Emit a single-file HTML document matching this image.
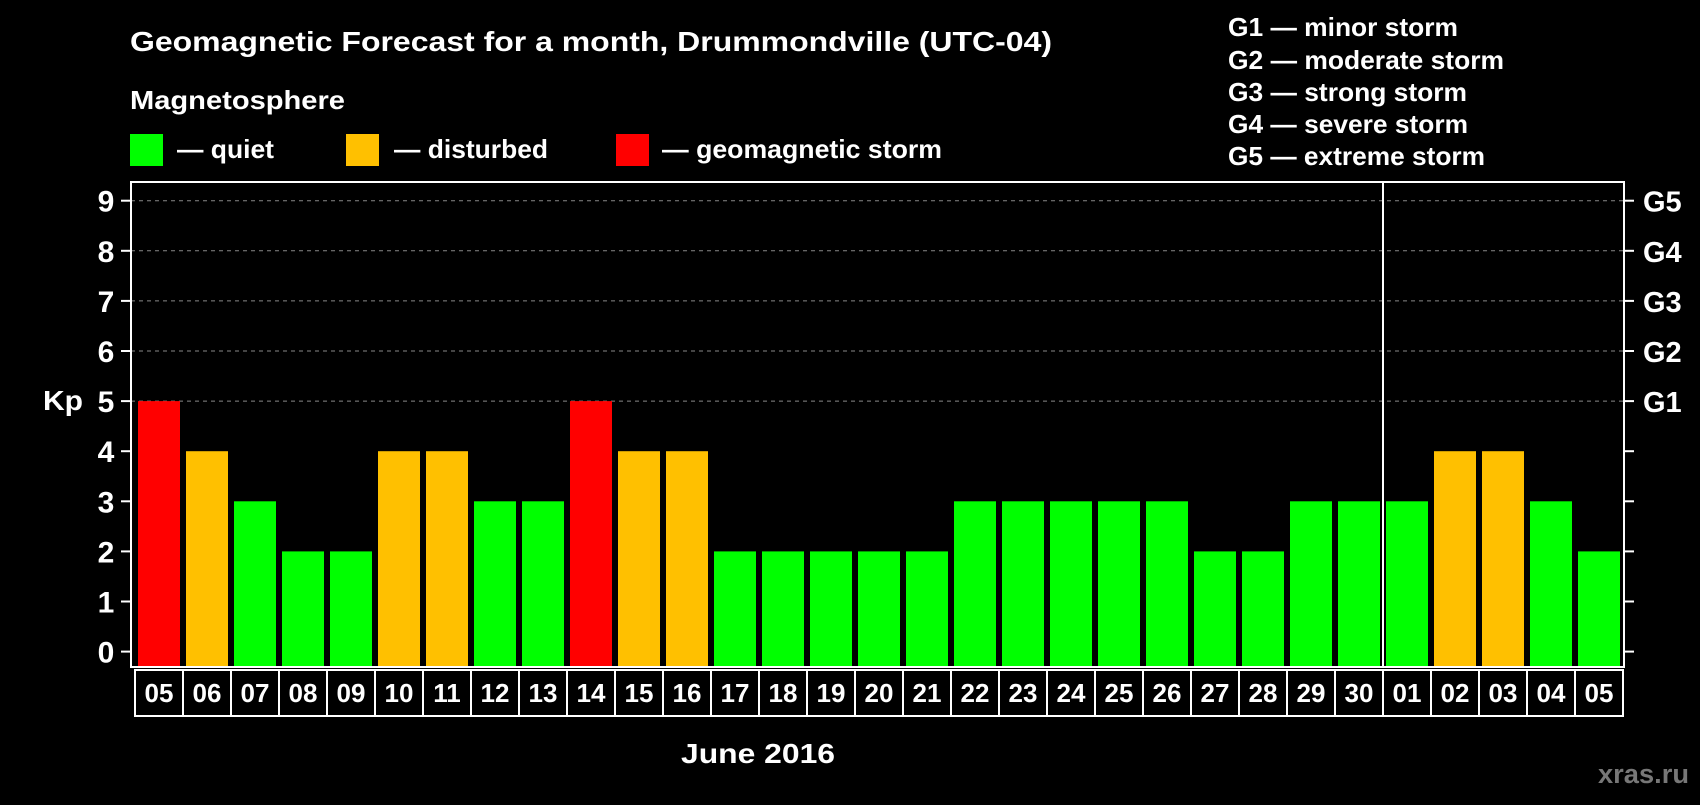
<!DOCTYPE html>
<html><head><meta charset="utf-8"><style>
body{margin:0;background:#000;width:1700px;height:800px;overflow:hidden}
svg text{font-family:"Liberation Sans",Arial,sans-serif;font-weight:bold;fill:#fff}
</style></head><body>
<svg id="c" width="1700" height="800">
<text x="130" y="51" font-size="28" textLength="922" lengthAdjust="spacingAndGlyphs">Geomagnetic Forecast for a month, Drummondville (UTC-04)</text>
<text x="130" y="109" font-size="26" textLength="215" lengthAdjust="spacingAndGlyphs">Magnetosphere</text>
<rect x="130" y="134" width="33" height="32" fill="#00ff00"/>
<text x="177" y="158" font-size="26" textLength="97" lengthAdjust="spacingAndGlyphs">— quiet</text>
<rect x="346" y="134" width="33" height="32" fill="#ffc000"/>
<text x="394" y="158" font-size="26" textLength="154" lengthAdjust="spacingAndGlyphs">— disturbed</text>
<rect x="616" y="134" width="33" height="32" fill="#ff0000"/>
<text x="662" y="158" font-size="26" textLength="280" lengthAdjust="spacingAndGlyphs">— geomagnetic storm</text>
<g font-size="26">
<text x="1228" y="36" textLength="230" lengthAdjust="spacingAndGlyphs">G1 — minor storm</text>
<text x="1228" y="69" textLength="276" lengthAdjust="spacingAndGlyphs">G2 — moderate storm</text>
<text x="1228" y="101" textLength="239" lengthAdjust="spacingAndGlyphs">G3 — strong storm</text>
<text x="1228" y="133" textLength="240" lengthAdjust="spacingAndGlyphs">G4 — severe storm</text>
<text x="1228" y="165" textLength="257" lengthAdjust="spacingAndGlyphs">G5 — extreme storm</text>
</g>
<text x="43" y="410" font-size="28" textLength="40" lengthAdjust="spacingAndGlyphs">Kp</text>
<text x="681" y="763" font-size="28" textLength="154" lengthAdjust="spacingAndGlyphs">June 2016</text>
<text x="1598" y="783" font-size="27" textLength="91" lengthAdjust="spacingAndGlyphs" style="fill:#777">xras.ru</text>
<g id="grid"></g><g id="bars"></g><g id="axes"></g>
</svg>
<script>
const categories=["05","06","07","08","09","10","11","12","13","14","15","16","17","18","19","20","21","22","23","24","25","26","27","28","29","30","01","02","03","04","05"];
const kpValues=[5,4,3,2,2,4,4,3,3,5,4,4,2,2,2,2,2,3,3,3,3,3,2,2,3,3,3,4,4,3,2];
const yTicks=[0,1,2,3,4,5,6,7,8,9];
const gLabels=["G1","G2","G3","G4","G5"];
const NS="http://www.w3.org/2000/svg";
const L=131,R=1624,T=182,B=667,X0=135,STEP=48,BW=42;
const y=v=>651.6-v*50.1;
const x=i=>X0+i*STEP;
function mk(tag,attrs,parent){const e=document.createElementNS(NS,tag);for(const k in attrs)e.setAttribute(k,attrs[k]);parent.appendChild(e);return e;}
const grid=document.getElementById('grid'),bars=document.getElementById('bars'),axes=document.getElementById('axes');
yTicks.forEach(v=>{
  if(v>=5){const g=mk('line',{x1:L,x2:R,y1:y(v),y2:y(v),stroke:'#888','stroke-dasharray':'4,4','stroke-width':1},grid);
  
  }
  const t1=mk('line',{x1:121,x2:L,y1:y(v),y2:y(v),stroke:'#fff','stroke-width':2},axes);
  
  
  const t2=mk('line',{x1:R,x2:1634,y1:y(v),y2:y(v),stroke:'#fff','stroke-width':2},axes);
  
  
  const lb=mk('text',{x:106,y:y(v)+11,'font-size':30,'text-anchor':'middle'},axes);lb.textContent=v;
  
  
});
gLabels.forEach((g,i)=>{const t=mk('text',{x:1643,y:y(i+5)+11,'font-size':29},axes);t.textContent=g;
  
  });
kpValues.forEach((v,i)=>{
  const c=v>=5?'#ff0000':v===4?'#ffc000':'#00ff00';
  const b=mk('rect',{x:x(i)+3,y:y(v),width:BW,height:B-1-y(v),fill:c},bars);
  
  
  const cell=mk('rect',{x:x(i),y:670,width:STEP,height:46,fill:'none',stroke:'#fff','stroke-width':2},axes);
  
  
  const t=mk('text',{x:x(i)+STEP/2,y:702,'font-size':26,'text-anchor':'middle'},axes);t.textContent=categories[i];
  
  
});
const fr=mk('rect',{x:L,y:T,width:R-L,height:B-T,fill:'none',stroke:'#fff','stroke-width':2},axes);


const sep=mk('line',{x1:x(26),x2:x(26),y1:T,y2:B,stroke:'#fff','stroke-width':2},axes);


</script>
</body></html>
